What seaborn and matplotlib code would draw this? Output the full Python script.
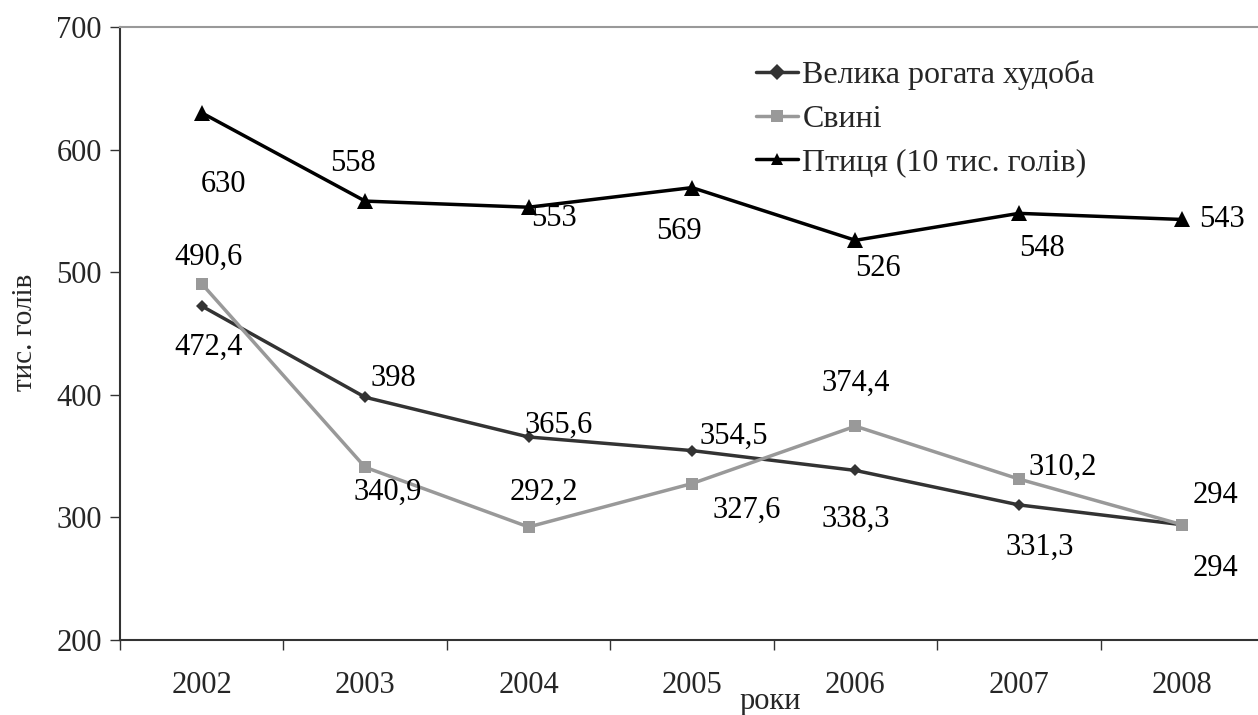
import pandas as pd
import seaborn as sns
import matplotlib.pyplot as plt

years = [2002, 2003, 2004, 2005, 2006, 2007, 2008]
cattle = [472.4, 398, 365.6, 354.5, 338.3, 310.2, 294]
pigs = [490.6, 340.9, 292.2, 327.6, 374.4, 331.3, 294]
poultry = [630, 558, 553, 569, 526, 548, 543]

# label texts as printed beside each series' markers in the source
cattle_labels = ['472,4', '398', '365,6', '354,5', '338,3', '331,3', '294']
pigs_labels = ['490,6', '340,9', '292,2', '327,6', '374,4', '310,2', '294']
poultry_labels = ['630', '558', '553', '569', '526', '548', '543']

names = ['Велика рогата худоба', 'Свині', 'Птиця (10 тис. голів)']

# label offsets in pixels (dx right, dy down)
cattle_off = [(7, 41), (28, -19), (30, -12), (42, -14), (0, 49), (21, 42), (33, 44)]
pigs_off = [(7, -26), (23, 25), (15, -35), (55, 27), (0, -43), (44, -12), (33, -29)]
poultry_off = [(22, 72), (-12, -38), (25, 11), (-13, 44), (23, 28), (23, 35), (40, 0)]

df = pd.concat([
    pd.DataFrame({'year': years, 'value': cattle, 'series': names[0]}),
    pd.DataFrame({'year': years, 'value': pigs, 'series': names[1]}),
    pd.DataFrame({'year': years, 'value': poultry, 'series': names[2]}),
])

sns.set_style('white')
plt.rcParams['font.family'] = ['Liberation Serif', 'DejaVu Serif']

fig = plt.figure(figsize=(12.58, 7.15), dpi=100)
ax = fig.add_axes([120 / 1258, 1 - 640 / 715, 1144 / 1258, 613 / 715])

palette = {names[0]: '#333333', names[1]: '#999999', names[2]: '#000000'}
markers = {names[0]: 'D', names[1]: 's', names[2]: '^'}
sns.lineplot(data=df, x='year', y='value', hue='series', style='series',
             palette=palette, markers=markers, dashes=False, linewidth=2.5,
             markersize=8, markeredgewidth=0, ax=ax)

# marker sizes differ per series
for line, ms in zip(ax.lines[:3], [6, 8, 12]):
    line.set_markersize(ms)

for vals, labels, offs in [(cattle, cattle_labels, cattle_off),
                           (pigs, pigs_labels, pigs_off),
                           (poultry, poultry_labels, poultry_off)]:
    for x, v, t, (dx, dy) in zip(years, vals, labels, offs):
        ax.annotate(t, (x, v), xytext=(dx * 0.72, -dy * 0.72),
                    textcoords='offset points', ha='center', va='center',
                    fontsize=22, color='black')

ax.set_xlim(2001.5, 2008.5)
ax.set_ylim(200, 700)
ax.set_yticks([200, 300, 400, 500, 600, 700])
ax.set_xticks(years)
ax.set_xticks([y - 0.5 for y in years] + [2008.5], minor=True)
ax.tick_params(axis='x', which='major', length=0, labelsize=22, pad=22)
ax.tick_params(axis='x', which='minor', length=7, width=1, direction='out', color='#333333')
ax.tick_params(axis='y', length=7, width=1, direction='out', labelsize=22, color='#333333', pad=6)
ax.tick_params(left=True, bottom=True, which='both')

ax.spines['right'].set_visible(False)
ax.spines['top'].set_color('#999999')
ax.spines['top'].set_linewidth(1.5)
ax.spines['left'].set_color('#333333')
ax.spines['bottom'].set_color('#333333')
ax.spines['left'].set_linewidth(1.5)
ax.spines['bottom'].set_linewidth(1.5)

ax.set_xlabel('')
ax.set_ylabel('')
fig.text(25 / 1258, 1 - 332 / 715, 'тис. голів', rotation=90, ha='center', va='center', fontsize=21)
fig.text(770 / 1258, 1 - 701 / 715, 'роки', ha='center', va='center', fontsize=22)

handles, labs = ax.get_legend_handles_labels()
ax.legend(handles, labs, loc='upper left', bbox_to_anchor=(740 / 1258, 1 - 44 / 715),
          bbox_transform=fig.transFigure, frameon=False, fontsize=23,
          handlelength=1.3, handletextpad=0.15, labelspacing=0.45, borderpad=0)

fig.savefig('out.png', dpi=100)
